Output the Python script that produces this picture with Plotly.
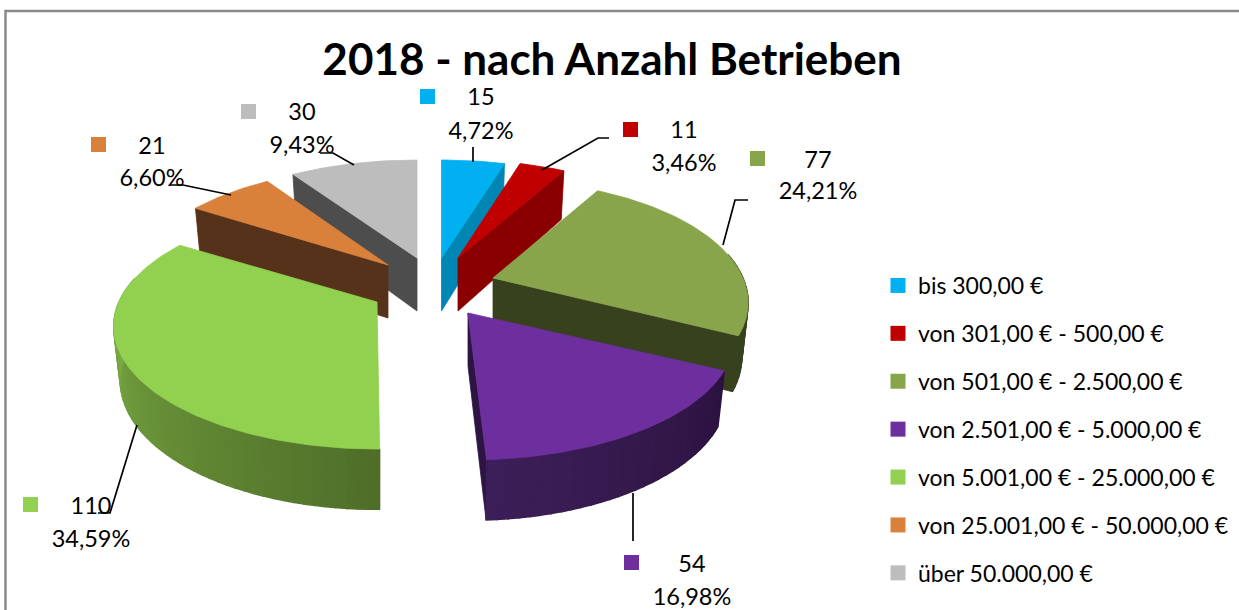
import math
import plotly.graph_objects as go

# ---- data ----
categories = ["bis 300,00 €", "von 301,00 € - 500,00 €", "von 501,00 € - 2.500,00 €",
              "von 2.501,00 € - 5.000,00 €", "von 5.001,00 € - 25.000,00 €",
              "von 25.001,00 € - 50.000,00 €", "über 50.000,00 €"]
values = [15, 11, 77, 54, 110, 21, 30]
percent_labels = ["4,72%", "3,46%", "24,21%", "16,98%", "34,59%", "6,60%", "9,43%"]
title_text = "2018 - nach Anzahl Betrieben"

# ---- styles ----
top_colors = ["#00B0F0", "#C00000", "#89A54C", "#6D2E9E", "#92D050", "#D9813B", "#BDBDBD"]
side_colors = ["#0086B4", "#8A0000", "#37411E", "#2E1443", "#4E6E29", "#57321A", "#4D4D4D"]
rim_from = ["#0086B4", "#8A0000", "#37411E", "#2C1240", "#4E6E29", "#57321A", "#4D4D4D"]
rim_to = ["#0086B4", "#8A0000", "#37411E", "#3C1F58", "#82B447", "#57321A", "#4D4D4D"]

# ---- layout of the projected pie (pixel space of the axes) ----
W, H = 1239, 610
slice_rx = [257, 253, 250, 261, 258, 252, 259]
RY, PERSP = 117.6, 0.2
DEPTH = 53.0
apexes = [(441.5, 258), (458, 258), (493, 278), (468, 313), (377, 302), (388, 265), (417, 258)]
start_trim = [0, 0, 0, 0, 1.8, 0, 0]
end_trim = [0, 0, 0, -1, 0, 0, 0]
draw_order = [6, 5, 0, 1, 2, 3, 4]
key_pos = [(427.5, 96.5), (630.5, 129.5), (757.5, 158.5), (631.5, 562.5), (30.5, 504.5), (98.5, 144.5), (248.5, 111.5)]
value_pos = [(481, 99), (684, 132), (818, 162), (692, 566), (91, 508), (152, 148), (302, 114)]
pct_pos = [(481, 133), (684, 165), (818, 193), (692, 599), (91, 541), (152, 180), (302, 147)]
leaders = [
    [(473, 147), (473, 162)],
    [(609, 138), (598, 138), (542, 170)],
    [(748, 200), (735, 200), (723, 245)],
    [(633, 493), (633, 541)],
    [(137, 425), (110, 513), (98, 513)],
    [(231, 195), (183, 185), (170, 185)],
    [(354, 165), (333, 153), (320, 153)],
]


def top_pt(i, deg):
    a = apexes[i]
    t = math.radians(deg)
    X, Y = math.sin(t), math.cos(t)
    s = 1 / (1 + PERSP * Y)
    return a[0] + slice_rx[i] * X * s, a[1] - RY * Y * s


def bot_pt(i, deg):
    a = apexes[i]
    t = math.radians(deg)
    X, Y = math.sin(t), math.cos(t)
    s = 1 / (1 + PERSP * Y)
    return a[0] + 0.975 * slice_rx[i] * X * s, a[1] + DEPTH - 1.05 * RY * Y * s


def arange(a, b, step=1.0):
    n = max(2, int(abs(b - a) / step) + 1)
    return [a + (b - a) * i / (n - 1) for i in range(n)]


def hex_mix(c1, c2, f):
    p = [int(c1[i:i + 2], 16) for i in (1, 3, 5)]
    q = [int(c2[i:i + 2], 16) for i in (1, 3, 5)]
    return "rgb({},{},{})".format(*[round(u + (v - u) * f) for u, v in zip(p, q)])


total = sum(values)
bounds, acc = [], 0.0
for v in values:
    bounds.append((acc / total * 360, (acc + v) / total * 360))
    acc += v

fig = go.Figure()


def poly(pts, color, width=0.8):
    fig.add_trace(go.Scatter(x=[p[0] for p in pts] + [pts[0][0]], y=[p[1] for p in pts] + [pts[0][1]],
                             mode="lines", fill="toself", fillcolor=color,
                             line=dict(color=color, width=width), hoverinfo="skip", showlegend=False))


for i in draw_order:
    a = apexes[i]
    t1, t2 = bounds[i]
    t1 += start_trim[i]
    t2 += end_trim[i]
    # radial cut face that looks to the viewer
    edge = t2 if t2 < 180 else t1
    if abs(edge - 180) > 3 or i == 3:
        poly([a, top_pt(i, edge), bot_pt(i, edge), (a[0], a[1] + DEPTH)], side_colors[i])
    # outer rim, split into strips for the shading
    lo, hi = max(t1, 78), min(t2, 282)
    if hi > lo:
        n = max(1, int((hi - lo) / 2))
        for k in range(n):
            s1 = lo + (hi - lo) * k / n
            s2 = lo + (hi - lo) * (k + 1) / n
            f = (k + 0.5) / n
            pts = [top_pt(i, d) for d in arange(s1, s2, 1)] + [bot_pt(i, d) for d in arange(s2, s1, 1)]
            poly(pts, hex_mix(rim_from[i], rim_to[i], f), width=1.5)
    # top face
    poly([a] + [top_pt(i, d) for d in arange(t1, t2, 1)], top_colors[i])

# leader lines
for pts in leaders:
    fig.add_trace(go.Scatter(x=[p[0] for p in pts], y=[p[1] for p in pts], mode="lines",
                             line=dict(color="black", width=1.7), hoverinfo="skip", showlegend=False))

LABEL_FONT = dict(family="Lato, Carlito, sans-serif", size=23.5, color="black")

# data labels with their colour keys
fig.add_trace(go.Scatter(x=[p[0] for p in key_pos], y=[p[1] for p in key_pos], mode="markers",
                         marker=dict(symbol="square", size=15, color=top_colors, line=dict(width=0)),
                         hoverinfo="skip", showlegend=False))
fig.add_trace(go.Scatter(x=[p[0] for p in value_pos], y=[p[1] for p in value_pos], mode="text",
                         text=[str(v) for v in values], textposition="middle center",
                         textfont=LABEL_FONT, hoverinfo="skip", showlegend=False))
fig.add_trace(go.Scatter(x=[p[0] for p in pct_pos], y=[p[1] for p in pct_pos], mode="text",
                         text=percent_labels, textposition="middle center",
                         textfont=LABEL_FONT, hoverinfo="skip", showlegend=False))

# legend entries
for i, c in enumerate(categories):
    fig.add_trace(go.Scatter(x=[None], y=[None], mode="markers", name=c, legendgroup=c,
                             marker=dict(symbol="square", size=15, color=top_colors[i], line=dict(width=0))))

fig.update_layout(
    width=W, height=H,
    margin=dict(l=0, r=0, t=0, b=0, pad=0),
    paper_bgcolor="white", plot_bgcolor="white",
    xaxis=dict(range=[0, W], visible=False, fixedrange=True),
    yaxis=dict(range=[H, 0], visible=False, fixedrange=True),
    title=dict(text="<b>" + title_text + "</b>", x=612 / W, xanchor="center", y=1 - 60 / H, yanchor="middle",
               font=dict(family="Lato, Carlito, sans-serif", size=44, color="black")),
    legend=dict(x=878 / W, xanchor="left", y=1 - 264 / H, yanchor="top", tracegroupgap=15,
                bgcolor="rgba(0,0,0,0)", font=dict(family="Lato, Carlito, sans-serif", size=23, color="black")),
    shapes=[dict(type="path", xref="x", yref="y", path=f"M 5.5 {H} L 5.5 11 L {W} 11",
                 line=dict(color="#8A8A8A", width=2.5))],
)

fig.write_html("out.html", config=dict(displayModeBar=False),
               post_script="document.body.style.margin='0';document.documentElement.style.overflow='hidden';")
